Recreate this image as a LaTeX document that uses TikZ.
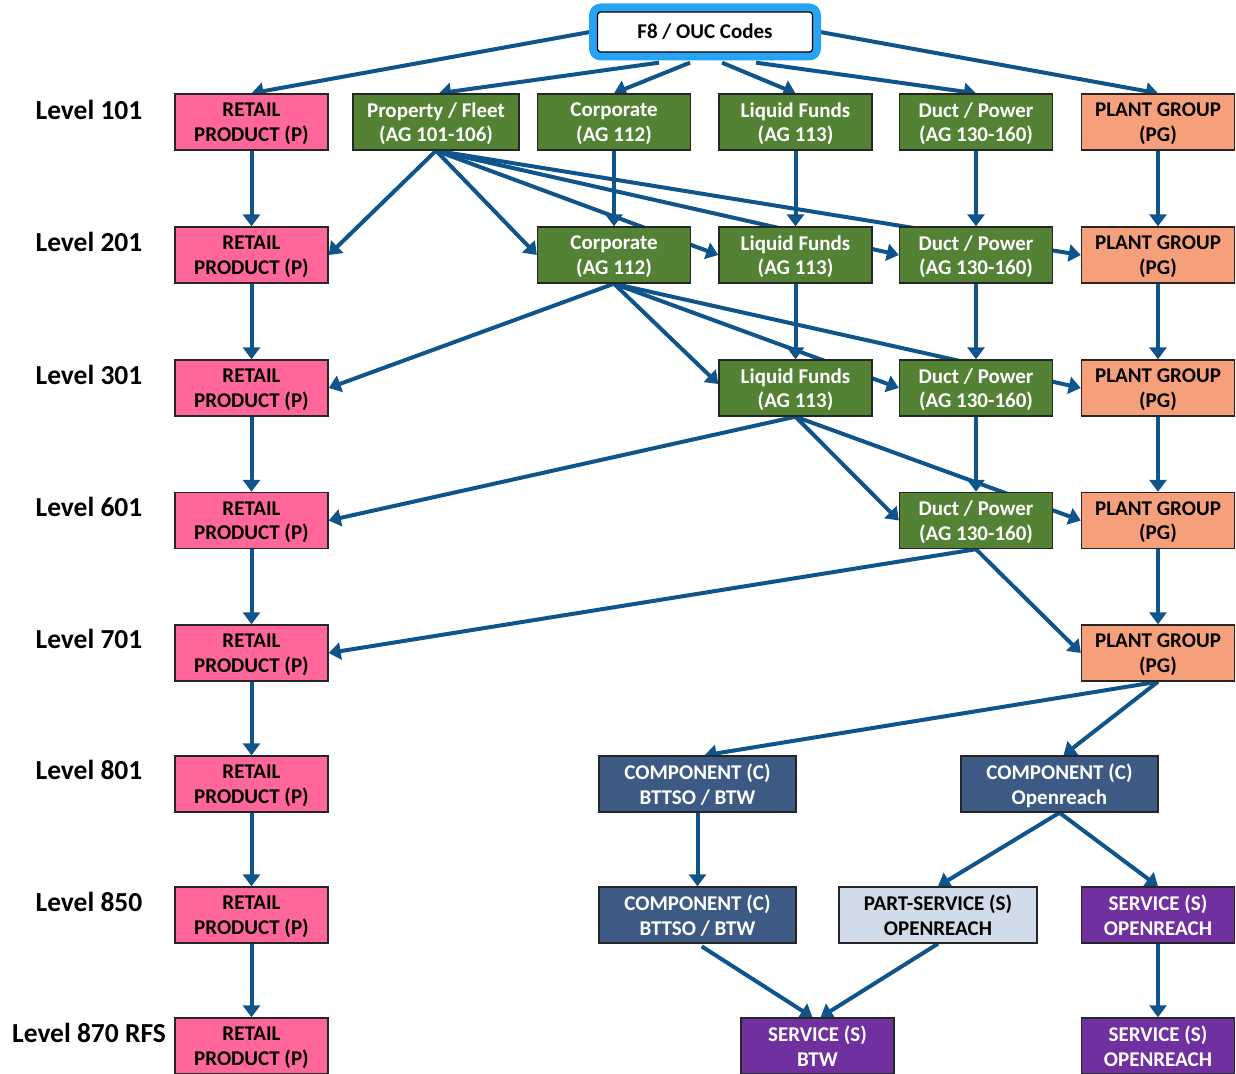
\documentclass[tikz,border=0pt]{standalone}
\usepackage{fontspec}
\setmainfont{Carlito}
\usetikzlibrary{arrows.meta,backgrounds}

\definecolor{pinkP}{RGB}{255,102,153}
\definecolor{greenAG}{RGB}{84,130,53}
\definecolor{salmonPG}{RGB}{245,160,123}
\definecolor{navyC}{RGB}{61,90,132}
\definecolor{lightS}{RGB}{208,220,234}
\definecolor{purpleS}{RGB}{112,48,160}
\definecolor{linkblue}{RGB}{16,84,140}
\definecolor{framecyan}{RGB}{38,163,242}

\tikzset{
  box/.style={draw=black!85, line width=1.4pt, minimum width=153pt, minimum height=56pt,
    inner sep=0pt, align=center, text depth=0pt,
    font=\bfseries\fontsize{21}{24.5}\selectfont},
  retail/.style={box, fill=pinkP, text=black},
  grp/.style={box, fill=greenAG, text=white},
  plant/.style={box, fill=salmonPG, text=black},
  comp/.style={box, fill=navyC, text=white, minimum width=197pt},
  part/.style={box, fill=lightS, text=black, minimum width=198pt},
  serv/.style={box, fill=purpleS, text=white},
  lvl/.style={font=\bfseries\fontsize{27.5}{30}\selectfont, inner sep=0pt},
  arr/.style={draw=linkblue, line width=4pt, -{Triangle[width=17pt,length=12pt]}},
}

\begin{document}
\begin{tikzpicture}[x=1pt,y=-1pt]
\useasboundingbox (0,0) rectangle (1236,1073);

% top source box
\node[draw=black, line width=1.3pt, fill=white, rounded corners=3pt,
  minimum width=215pt, minimum height=40pt, inner sep=0pt,
  font=\bfseries\fontsize{21}{24}\selectfont,
  preaction={draw=framecyan, line width=17pt, line join=round}]
  (f8) at (705,32) {F8 / OUC Codes};

% level labels
\node[lvl] (lv1) at (89,110) {Level 101};
\node[lvl] (lv2) at (89,242) {Level 201};
\node[lvl] (lv3) at (89,375) {Level 301};
\node[lvl] (lv4) at (89,507) {Level 601};
\node[lvl] (lv5) at (89,639) {Level 701};
\node[lvl] (lv6) at (89,770) {Level 801};
\node[lvl] (lv7) at (89,902) {Level 850};
\node[lvl] (lv8) at (89,1033) {Level 870 RFS};

% retail product column
\node[retail] (r1) at (251.5,122)   {RETAIL\\PRODUCT (P)};
\node[retail] (r2) at (251.5,255)   {RETAIL\\PRODUCT (P)};
\node[retail] (r3) at (251.5,388)   {RETAIL\\PRODUCT (P)};
\node[retail] (r4) at (251.5,520.5) {RETAIL\\PRODUCT (P)};
\node[retail] (r5) at (251.5,653)   {RETAIL\\PRODUCT (P)};
\node[retail] (r6) at (251.5,784)   {RETAIL\\PRODUCT (P)};
\node[retail] (r7) at (251.5,915)   {RETAIL\\PRODUCT (P)};
\node[retail] (r8) at (251.5,1046)  {RETAIL\\PRODUCT (P)};

% account groups
\node[grp, minimum width=166pt] (p1) at (436,122) {Property / Fleet\\(AG 101-106)};
\node[grp] (c1) at (614,122)   {Corporate\\(AG 112)};
\node[grp] (l1) at (795.5,122) {Liquid Funds\\(AG 113)};
\node[grp] (d1) at (976,122)   {Duct / Power\\(AG 130-160)};
\node[grp] (c2) at (614,255)   {Corporate\\(AG 112)};
\node[grp] (l2) at (795.5,255) {Liquid Funds\\(AG 113)};
\node[grp] (d2) at (976,255)   {Duct / Power\\(AG 130-160)};
\node[grp] (l3) at (795.5,388) {Liquid Funds\\(AG 113)};
\node[grp] (d3) at (976,388)   {Duct / Power\\(AG 130-160)};
\node[grp] (d4) at (976,520.5) {Duct / Power\\(AG 130-160)};

% plant groups
\node[plant] (g1) at (1158,122)   {PLANT GROUP\\(PG)};
\node[plant] (g2) at (1158,255)   {PLANT GROUP\\(PG)};
\node[plant] (g3) at (1158,388)   {PLANT GROUP\\(PG)};
\node[plant] (g4) at (1158,520.5) {PLANT GROUP\\(PG)};
\node[plant] (g5) at (1158,653)   {PLANT GROUP\\(PG)};

% components and services
\node[comp] (cb6) at (697.5,784)  {COMPONENT (C)\\BTTSO / BTW};
\node[comp] (co6) at (1059.5,784) {COMPONENT (C)\\Openreach};
\node[comp] (cb7) at (697.5,915)  {COMPONENT (C)\\BTTSO / BTW};
\node[part] (ps7) at (938,915)    {PART-SERVICE (S)\\OPENREACH};
\node[serv] (so7) at (1158,915)   {SERVICE (S)\\OPENREACH};
\node[serv] (sb8) at (817.5,1046) {SERVICE (S)\\BTW};
\node[serv] (so8) at (1158,1046)  {SERVICE (S)\\OPENREACH};

\begin{scope}[on background layer]
  % from the code box
  \draw[arr] ([xshift=-7pt]f8.west) -- (r1.north);
  \draw[arr] ([xshift=-46pt,yshift=-10pt]f8.south) -- ([xshift=3pt]p1.north);
  \draw[arr] ([xshift=-15pt,yshift=-10pt]f8.south) -- (c1.north);
  \draw[arr] ([xshift=17pt,yshift=-10pt]f8.south) -- (l1.north);
  \draw[arr] ([xshift=51pt,yshift=-10pt]f8.south) -- (d1.north);
  \draw[arr] ([xshift=7pt]f8.east) -- (g1.north);

  % straight column links
  \foreach \a/\b in {r1/r2,r2/r3,r3/r4,r4/r5,r5/r6,r6/r7,r7/r8,
                     c1/c2,l1/l2,l2/l3,d1/d2,d2/d3,d3/d4,
                     g1/g2,g2/g3,g3/g4,g4/g5,cb6/cb7,so7/so8}
    \draw[arr] (\a.south) -- (\b.north);

  % level 101 -> 201
  \draw[arr] (p1.south) -- (r2.east);
  \draw[arr] (p1.south) -- (c2.west);
  \draw[arr] (p1.south) -- (l2.west);
  \draw[arr] (p1.south) -- (d2.west);
  \draw[arr] (p1.south) -- (g2.west);

  % level 201 -> 301
  \draw[arr] (c2.south) -- (r3.east);
  \draw[arr] (c2.south) -- ([yshift=4pt]l3.west);
  \draw[arr] (c2.south) -- (d3.west);
  \draw[arr] (c2.south) -- (g3.west);

  % level 301 -> 601
  \draw[arr] (l3.south) -- (r4.east);
  \draw[arr] (l3.south) -- (d4.west);
  \draw[arr] (l3.south) -- (g4.west);

  % level 601 -> 701
  \draw[arr] (d4.south) -- (r5.east);
  \draw[arr] (d4.south) -- (g5.west);

  % level 701 -> 801
  \draw[arr] (g5.south) -- ([xshift=7pt]cb6.north);
  \draw[arr] (g5.south) -- ([xshift=4pt]co6.north);

  % level 801 -> 850
  \draw[arr] (co6.south) -- (ps7.north);
  \draw[arr] (co6.south) -- (so7.north);

  % level 850 -> 870
  \draw[arr, shorten <=5pt] (cb7.south) -- ([xshift=-5pt]sb8.north);
  \draw[arr] (ps7.south) -- ([xshift=3pt]sb8.north);
\end{scope}
\end{tikzpicture}
\end{document}
